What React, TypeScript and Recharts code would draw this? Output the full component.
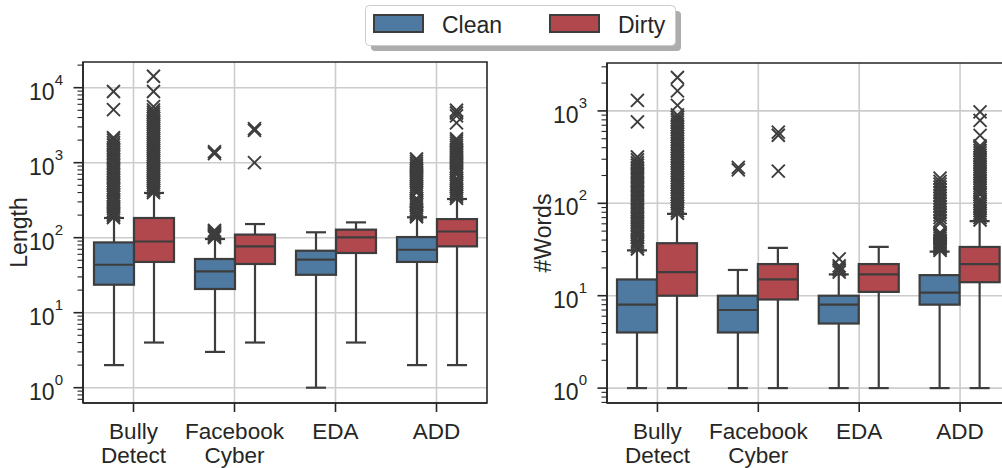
import React from 'react';
import {
  ComposedChart,
  Bar,
  Scatter,
  Line,
  XAxis,
  YAxis,
  CartesianGrid,
  ReferenceArea,
  ReferenceLine,
} from 'recharts';

const FONT = '"Liberation Sans", Arial, sans-serif';
const INK = '#262626';
const EDGE = '#3d3d3d';
const GRID = '#cccccc';
const BOX = 40; // box width in px

const CATEGORIES = ['Bully\nDetect', 'Facebook\nCyber', 'EDA', 'ADD'];
const SERIES = ['Clean', 'Dirty'];
const COLORS = ['#4e79a1', '#b0484e'];

// each row: [whisker low, q1, median, q3, whisker high]
const LENGTH_CLEAN = [
  [2, 23.6, 43.6, 86.5, 183],
  [3, 20.7, 35.5, 52, 96],
  [1, 32, 51, 67, 118],
  [2, 47.5, 69, 102, 187],
];
const LENGTH_DIRTY = [
  [4, 47.5, 89, 183, 395],
  [4, 44.6, 76.6, 110, 152],
  [4, 62.5, 101, 128, 160],
  [2, 76.6, 121, 177, 328],
];
const WORDS_CLEAN = [
  [1, 4, 8, 15, 31],
  [1, 4, 7, 10, 19],
  [1, 5, 8, 10, 17],
  [1, 8, 10.8, 16.7, 30],
];
const WORDS_DIRTY = [
  [1, 10, 18, 37, 77],
  [1, 9.1, 15, 22, 33],
  [1, 11, 17, 22, 33.7],
  [1, 14, 22, 33.7, 64],
];

// outliers (fliers) per category
const LENGTH_CLEAN_OUT = [
  [185, 195, 205, 215, 230, 245, 260, 280, 300, 320, 345, 370, 400, 430, 460, 500, 540, 580, 630, 680,
    730, 790, 850, 920, 1000, 1080, 1170, 1260, 1360, 1470, 1590, 1720, 1850, 2000, 2150, 5100, 8900],
  [100, 104, 108, 112, 116, 120, 125, 1320, 1400],
  [],
  [190, 200, 210, 220, 235, 250, 265, 280, 300, 315, 335, 400, 425, 450, 480, 510, 545, 580, 620, 660,
    700, 750, 800, 850, 910, 970, 1040, 1120],
];
const LENGTH_DIRTY_OUT = [
  [400, 425, 450, 480, 510, 540, 575, 610, 650, 690, 735, 780, 830, 880, 940, 1000, 1060, 1130, 1200,
    1280, 1360, 1450, 1540, 1640, 1750, 1860, 1980, 2100, 2240, 2380, 2540, 2700, 2870, 3050, 3250,
    3460, 3680, 3920, 4170, 4440, 4730, 5050, 5600, 8900, 14200],
  [1000, 2700, 2850],
  [],
  [335, 355, 375, 400, 425, 450, 480, 510, 545, 580, 620, 700, 745, 790, 840, 900, 960, 1020, 1090,
    1160, 1240, 1320, 1400, 1500, 1600, 1700, 1820, 1950, 2080, 3400, 4200, 4600, 5000],
];
const WORDS_CLEAN_OUT = [
  [32, 34, 36, 38, 40, 43, 46, 49, 52, 55, 59, 63, 67, 71, 76, 81, 86, 92, 98, 105, 112, 120, 128, 136,
    145, 155, 165, 176, 188, 200, 213, 227, 242, 258, 275, 295, 317, 760, 1300],
  [230, 245],
  [18, 19, 20, 21, 25],
  [31, 32, 33, 34, 35, 36, 37, 38, 39, 40, 42, 44, 46, 48, 61, 65, 70, 75, 80, 86, 92, 99, 106, 114,
    122, 131, 140, 150, 161, 173, 187],
];
const WORDS_DIRTY_OUT = [
  [78, 83, 88, 93, 99, 105, 111, 118, 125, 133, 141, 150, 159, 169, 179, 190, 202, 214, 227, 241, 256,
    272, 289, 307, 326, 346, 367, 390, 414, 440, 467, 496, 527, 560, 594, 631, 670, 711, 755, 802, 852,
    905, 1150, 1650, 2300],
  [223, 545, 590],
  [],
  [66, 70, 74, 78, 83, 88, 93, 99, 105, 111, 124, 131, 139, 147, 156, 165, 175, 186, 197, 209, 221, 234,
    248, 263, 279, 296, 313, 332, 352, 373, 395, 418, 543, 790, 977],
];

const logTicks = ([lo, hi]: number[]) => {
  const out: number[] = [];
  for (let e = -1; e <= 5; e++) {
    for (let m = 1; m <= 9; m++) {
      const v = +(m * Math.pow(10, e)).toPrecision(6);
      if (v >= lo && v <= hi) out.push(v);
    }
  }
  return out;
};

const BoxShape = (props: any) => {
  const { x, y, width, height, stats, fill } = props;
  if (!stats || x == null || y == null) return null;
  const [lo, q1, med, q3, hi] = stats;
  // positions inside the box follow the log scale between q1 and q3
  const k = height / (Math.log(q3) - Math.log(q1));
  const py = (v: number) => y + (Math.log(q3) - Math.log(v)) * k;
  const cx = x + width / 2;
  const cap = width / 4;
  const line = { stroke: EDGE, strokeWidth: 2.2 };
  return (
    <g>
      <line x1={cx} x2={cx} y1={py(hi)} y2={y} {...line} />
      <line x1={cx} x2={cx} y1={y + height} y2={py(lo)} {...line} />
      <line x1={cx - cap} x2={cx + cap} y1={py(hi)} y2={py(hi)} {...line} />
      <line x1={cx - cap} x2={cx + cap} y1={py(lo)} y2={py(lo)} {...line} />
      <rect x={x} y={y} width={width} height={height} fill={fill} stroke={EDGE} strokeWidth={2.2} />
      <line x1={x} x2={x + width} y1={py(med)} y2={py(med)} {...line} />
    </g>
  );
};

const XMark = ({ cx, cy }: any) => {
  if (cx == null || cy == null || isNaN(cx) || isNaN(cy)) return null;
  const r = 6.5;
  return (
    <g stroke={EDGE} strokeWidth={1.9}>
      <line x1={cx - r} y1={cy - r} x2={cx + r} y2={cy + r} />
      <line x1={cx - r} y1={cy + r} x2={cx + r} y2={cy - r} />
    </g>
  );
};

const LogTick = ({ x, y, payload }: any) => {
  const v = payload.value;
  const e = Math.round(Math.log10(v));
  const major = Math.abs(Math.log10(v) - e) < 1e-6;
  return (
    <g>
      <line x1={x - (major ? 9.5 : 5.5)} x2={x} y1={y} y2={y} stroke={INK} strokeWidth={major ? 1.6 : 1.1} />
      {major && (
        <text x={x - 20} y={y + 12} textAnchor="end" fill={INK} fontFamily={FONT} fontSize={23}>
          <tspan>10</tspan>
          <tspan dy={-15} fontSize={15}>{e}</tspan>
        </text>
      )}
    </g>
  );
};

const CatTick = ({ x, y, payload }: any) => {
  const lines = String(payload.value).split('\n');
  return (
    <g>
      <line x1={x} x2={x} y1={y} y2={y + 9} stroke={INK} strokeWidth={1.6} />
      <text textAnchor="middle" fill={INK} fontFamily={FONT} fontSize={22.5}>
        {lines.map((l, i) => (
          <tspan key={i} x={x} y={y + 36 + i * 23.5}>{l}</tspan>
        ))}
      </text>
    </g>
  );
};

function BoxPanel({ clean, dirty, cleanOut, dirtyOut, domain, majors, title, width, margin, yWidth, xHeight }: any) {
  const rows = CATEGORIES.map((cat, i) => ({
    cat,
    clean: [clean[i][1], clean[i][3]],
    dirty: [dirty[i][1], dirty[i][3]],
    cleanStats: clean[i],
    dirtyStats: dirty[i],
  }));
  const toPoints = (out: number[][]) => out.flatMap((vals, i) => vals.map((v) => ({ cat: CATEGORIES[i], v })));
  const outs = [toPoints(cleanOut), toPoints(dirtyOut)];
  const keys = ['clean', 'dirty'];
  const spine = { stroke: INK, strokeWidth: 1.6 };

  return (
    <ComposedChart width={width} height={468} data={rows} margin={margin} barGap={0} barSize={BOX}>
      <CartesianGrid stroke={GRID} strokeWidth={1.6} vertical={false} horizontalValues={majors} />
      {CATEGORIES.map((c) => (
        <ReferenceLine key={c} x={c} stroke={GRID} strokeWidth={1.6} zIndex={-50} />
      ))}
      <Line data={rows} dataKey="none" stroke="none" dot={false} activeDot={false} legendType="none" isAnimationActive={false} />
      <XAxis
        dataKey="cat"
        type="category"
        allowDuplicatedCategory={false}
        interval={0}
        height={xHeight}
        axisLine={spine}
        tickLine={false}
        tickSize={0}
        tickMargin={0}
        tick={<CatTick />}
      />
      <YAxis
        type="number"
        scale="log"
        domain={domain}
        allowDataOverflow
        ticks={logTicks(domain)}
        interval={0}
        width={yWidth}
        axisLine={spine}
        tickLine={false}
        tickSize={0}
        tickMargin={0}
        tick={<LogTick />}
        label={(p: any) => {
          const vb = p.viewBox || {};
          const cx = vb.x + vb.width - 64.5;
          const cy = vb.y + vb.height / 2;
          return (
            <text x={cx} y={cy} textAnchor="middle" dominantBaseline="central" fill={INK}
              fontFamily={FONT} fontSize={23} transform={`rotate(-90, ${cx}, ${cy})`}>
              {title}
            </text>
          );
        }}
      />
      {keys.map((k, s) => (
        <Bar
          key={k}
          dataKey={k}
          name={SERIES[s]}
          barSize={BOX}
          isAnimationActive={false}
          shape={(p: any) => <BoxShape {...p} stats={p.payload && p.payload[k + 'Stats']} fill={COLORS[s]} />}
        />
      ))}
      {outs.map((pts, s) => (
        <Scatter
          key={keys[s] + 'out'}
          data={pts}
          dataKey="v"
          isAnimationActive={false}
          shape={(p: any) => <XMark cx={p.cx + (s === 0 ? -BOX / 2 : BOX / 2)} cy={p.cy} />}
        />
      ))}
      <ReferenceArea
        x1={CATEGORIES[0]}
        x2={CATEGORIES[CATEGORIES.length - 1]}
        y1={domain[0]}
        y2={domain[1]}
        fill="none"
        fillOpacity={0}
        stroke={INK}
        strokeWidth={1.6}
        ifOverflow="visible"
      />
    </ComposedChart>
  );
}

function LegendBox() {
  return (
    <svg width={1002} height={60} style={{ position: 'absolute', left: 0, top: 0 }}>
      <rect x={371} y={11} width={310} height={40} rx={4} fill="#adadad" />
      <rect x={365.5} y={5.5} width={310} height={40} rx={4} fill="#ffffff" stroke="#cccccc" />
      {SERIES.map((name, i) => (
        <g key={name}>
          <rect x={374 + i * 176} y={15} width={49} height={17} fill={COLORS[i]} stroke={EDGE} strokeWidth={2} />
          <text x={442 + i * 176} y={32.5} fill={INK} fontFamily={FONT} fontSize={23}>{name}</text>
        </g>
      ))}
    </svg>
  );
}

export default function App() {
  return (
    <div style={{ position: 'fixed', left: 0, top: 0, width: 1002, height: 468, overflow: 'hidden', background: '#fff' }}>
      <div style={{ position: 'absolute', left: 0, top: 0 }}>
        <BoxPanel
          clean={LENGTH_CLEAN}
          dirty={LENGTH_DIRTY}
          cleanOut={LENGTH_CLEAN_OUT}
          dirtyOut={LENGTH_DIRTY_OUT}
          domain={[0.625, 22000]}
          majors={[1, 10, 100, 1000, 10000]}
          title="Length"
          width={500}
          margin={{ top: 62, right: 13, bottom: 0, left: 0 }}
          yWidth={83}
          xHeight={65}
        />
      </div>
      <div style={{ position: 'absolute', left: 500, top: 0 }}>
        <BoxPanel
          clean={WORDS_CLEAN}
          dirty={WORDS_DIRTY}
          cleanOut={WORDS_CLEAN_OUT}
          dirtyOut={WORDS_DIRTY_OUT}
          domain={[0.69, 3300]}
          majors={[1, 10, 100, 1000]}
          title="#Words"
          width={520}
          margin={{ top: 63, right: 9.5, bottom: 0, left: 0 }}
          yWidth={107}
          xHeight={65}
        />
      </div>
      <LegendBox />
    </div>
  );
}
